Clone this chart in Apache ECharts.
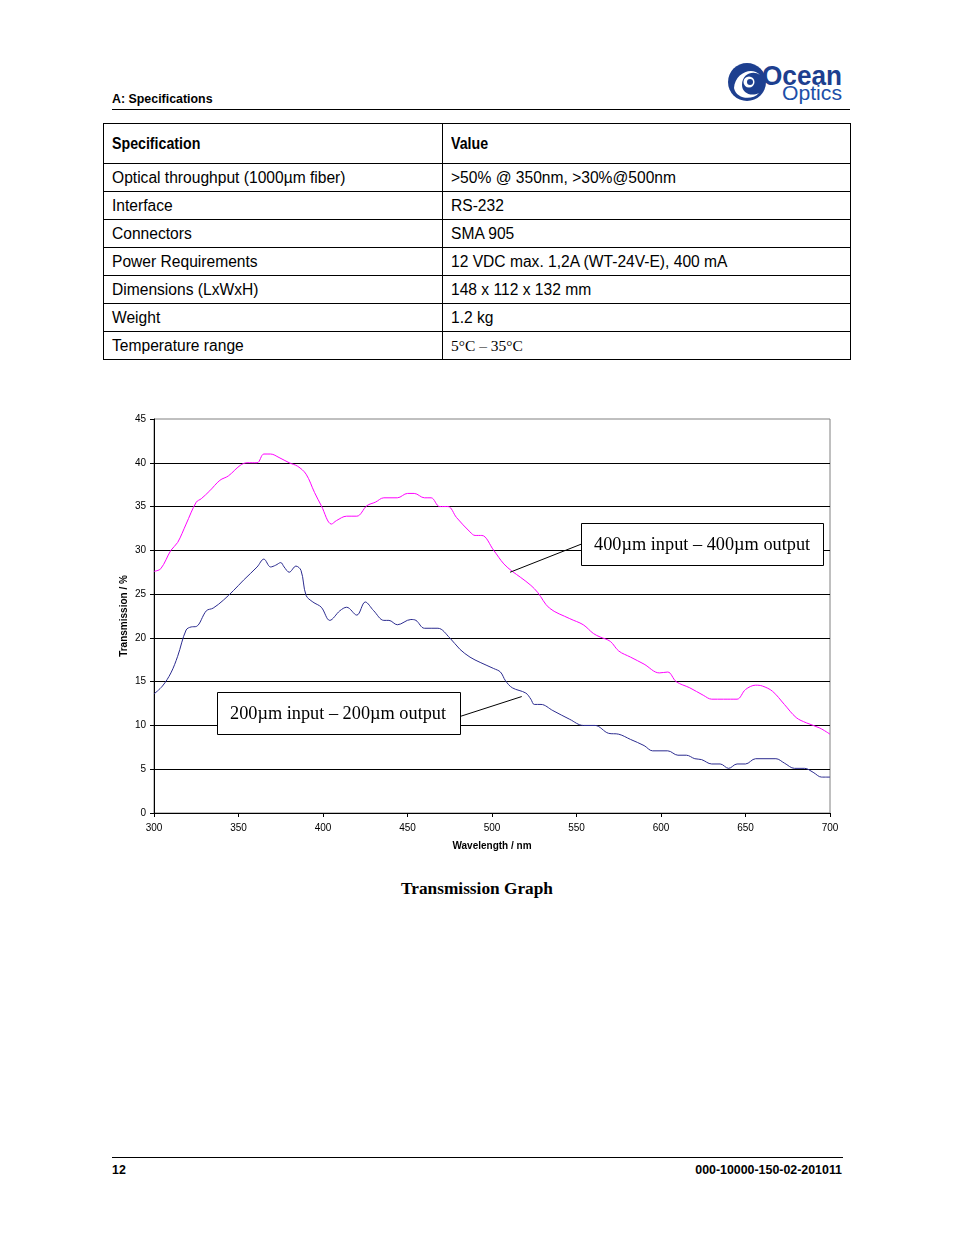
<!DOCTYPE html>
<html>
<head>
<meta charset="utf-8">
<script src="https://cdn.jsdelivr.net/npm/echarts@6/dist/echarts.min.js"></script>
<style>
  html, body { margin: 0; padding: 0; background: #fff; }
  body { width: 954px; height: 1235px; position: relative; overflow: hidden; font-family: "Liberation Sans", Arial, sans-serif; color: #000; }
  .abs { position: absolute; }
  #hdr { left: 112px; top: 92px; font-size: 12.4px; font-weight: bold; }
  #hline { left: 112px; top: 109px; width: 738px; height: 0; border-top: 1px solid #000; }
  #logo { left: 726px; top: 58px; width: 120px; height: 48px; }
  table { position: absolute; left: 103px; top: 123px; width: 748px; border-collapse: collapse; }
  td { border: 1px solid #000; padding: 0 0 0 8px; font-size: 15.6px; height: 27px; line-height: 27px; white-space: nowrap; }
  tr.h td { height: 39px; font-weight: bold; font-size: 16.5px; }
  tr.h td span { display: inline-block; transform: scaleX(0.86); transform-origin: left center; }
  td.c1 { width: 330px; }
  td.serif { font-family: "Liberation Serif", "Times New Roman", serif; font-size: 15.5px; }
  #chart { left: 0; top: 390px; width: 954px; height: 480px; }
  #cap { left: 0; width: 954px; top: 879px; text-align: center; font-family: "Liberation Serif", "Times New Roman", serif; font-weight: bold; font-size: 17.3px; }
  #fline { left: 112px; top: 1157px; width: 731px; height: 0; border-top: 1px solid #000; }
  #pg { left: 112px; top: 1163px; font-size: 12.4px; font-weight: bold; }
  #doc { right: 112px; top: 1163px; font-size: 12.4px; font-weight: bold; }
</style>
</head>
<body>
<div id="hdr" class="abs">A: Specifications</div>
<div id="hline" class="abs"></div>
<div id="logo" class="abs">
  <svg width="122" height="48" viewBox="0 0 122 48">
    <circle cx="21" cy="24" r="19" fill="#1d3f8f"/>
    <path d="M8 30 C 9 15, 26 8, 34 17 C 27 12, 16 16, 16 27 C 16 35, 25 39, 33 35 C 26 43, 10 41, 8 30 Z" fill="#fff"/>
    <circle cx="23" cy="24" r="5.5" fill="#fff"/>
    <circle cx="24" cy="24" r="3" fill="#1d3f8f"/>
    <text x="36" y="27" font-family="Liberation Sans, Arial" font-weight="bold" font-size="27" fill="#1d3f8f" textLength="80" lengthAdjust="spacingAndGlyphs">Ocean</text>
    <text x="56" y="42" font-family="Liberation Sans, Arial" font-size="20" fill="#1d4fa8" textLength="60" lengthAdjust="spacingAndGlyphs">Optics</text>
  </svg>
</div>

<table>
  <tr class="h"><td class="c1"><span>Specification</span></td><td><span>Value</span></td></tr>
  <tr><td class="c1">Optical throughput (1000µm fiber)</td><td>&gt;50% @ 350nm, &gt;30%@500nm</td></tr>
  <tr><td class="c1">Interface</td><td>RS-232</td></tr>
  <tr><td class="c1">Connectors</td><td>SMA 905</td></tr>
  <tr><td class="c1">Power Requirements</td><td>12 VDC max. 1,2A (WT-24V-E), 400 mA</td></tr>
  <tr><td class="c1">Dimensions (LxWxH)</td><td>148 x 112 x 132 mm</td></tr>
  <tr><td class="c1">Weight</td><td>1.2 kg</td></tr>
  <tr><td class="c1">Temperature range</td><td class="serif">5°C – 35°C</td></tr>
</table>

<div id="chart" class="abs"></div>
<div id="cap" class="abs">Transmission Graph</div>
<div id="fline" class="abs"></div>
<div id="pg" class="abs">12</div>
<div id="doc" class="abs">000-10000-150-02-201011</div>

<script>
// ---- data ----
var xTicks = [300, 350, 400, 450, 500, 550, 600, 650, 700];
var yTicks = [0, 5, 10, 15, 20, 25, 30, 35, 40, 45];

var fiber400Wl = [300,304,310,314,319,325,328,333,339,344,351,355,361,365,369,374,380,385,390,395,399,405,408,414,420,426,431,436,444,450,454,460,464,469,474,479,487,490,494,501,507,512,517,523,527,534,546,554,560,564,570,575,582,590,599,604,609,617,625,630,637,645,650,656,660,666,673,680,686,694,700];
var fiber400T = [27.6,27.9,30.0,30.9,33.0,35.5,35.9,36.8,38.0,38.5,39.7,40.0,40.0,41.0,41.0,40.6,40.0,39.6,38.7,36.6,35.1,33.0,33.4,33.9,33.9,35.1,35.5,36.0,36.0,36.5,36.5,36.0,36.0,35.0,35.0,33.75,32.1,31.7,31.7,30.0,28.45,27.6,26.9,26.0,25.2,23.4,22.2,21.5,20.5,20.1,19.6,18.5,17.8,17.0,16.0,16.1,15.0,14.3,13.45,13.0,13.0,13.0,14.1,14.6,14.5,13.9,12.4,10.9,10.3,9.7,9.0];

var fiber200Wl = [300,305,310,314,319,322,325,331,335,341,347,353,361,365,369,372,375,377,380,384,387,390,394,399,404,410,414,420,425,430,436,439,444,452,455,460,468,475,481,487,493,501,505,508,512,520,523,525,529,536,546,554,561,569,575,582,590,595,604,610,615,620,624,630,635,640,645,650,656,668,673,679,685,690,695,700];
var fiber200T = [13.6,14.5,16.0,17.9,20.9,21.25,21.3,23.1,23.4,24.3,25.4,26.6,28.1,29.0,28.1,28.3,28.6,28.1,27.5,28.2,27.7,24.85,24.1,23.5,22.0,23.1,23.5,22.6,24.1,23.1,22.0,22.0,21.5,22.1,22.0,21.1,21.1,20.0,18.7,17.8,17.2,16.5,16.1,15.1,14.3,13.7,13.0,12.4,12.4,11.7,10.7,10.0,10.0,9.1,9.0,8.4,7.7,7.1,7.1,6.6,6.6,6.2,6.1,5.6,5.6,5.1,5.6,5.6,6.2,6.2,5.7,5.1,5.1,4.65,4.1,4.1];

var labels = ["400µm input – 400µm output", "200µm input – 200µm output"];
// annotation anchors in data space: box [x1,y1,x2,y2], leader [xa,ya,xb,yb]
var label400Box = [552.7, 33.1, 695.9, 28.3];
var label400Lead = [552.7, 30.7, 510.7, 27.5];
var label200Box = [337.1, 13.8, 480.7, 9.0];
var label200Lead = [480.7, 11.0, 517.6, 13.3];

function pairs(xs, ys) { return xs.map(function (x, i) { return [x, ys[i]]; }); }

var chart = echarts.init(document.getElementById('chart'), null, { renderer: 'canvas' });
var font = '"Liberation Sans", Arial, sans-serif';
chart.setOption({
  animation: false,
  grid: { left: 154, right: 124, top: 29, bottom: 57, show: true, borderColor: '#808080', borderWidth: 1, backgroundColor: 'transparent' },
  xAxis: {
    type: 'value', min: xTicks[0], max: xTicks[xTicks.length - 1], interval: 50,
    name: 'Wavelength / nm', nameLocation: 'middle', nameGap: 28, nameMoveOverlap: false,
    nameTextStyle: { fontFamily: font, fontWeight: 'bold', fontSize: 10, color: '#000' },
    axisLine: { lineStyle: { color: '#000', width: 1 } },
    axisTick: { show: true, length: 4, lineStyle: { color: '#000' } },
    axisLabel: { fontFamily: font, fontSize: 10, color: '#000', margin: 10 },
    splitLine: { show: false }
  },
  yAxis: {
    type: 'value', min: yTicks[0], max: yTicks[yTicks.length - 1], interval: 5,
    name: 'Transmission / %', nameLocation: 'middle', nameGap: 25, nameMoveOverlap: false,
    nameTextStyle: { fontFamily: font, fontWeight: 'bold', fontSize: 10, color: '#000' },
    axisLine: { show: true, lineStyle: { color: '#000', width: 1 } },
    axisTick: { show: true, length: 4, lineStyle: { color: '#000' } },
    axisLabel: { fontFamily: font, fontSize: 10, color: '#000', margin: 8 },
    splitLine: { show: true, showMaxLine: false, lineStyle: { color: '#000', width: 1 } }
  },
  series: [
    { type: 'line', name: labels[0], data: pairs(fiber400Wl, fiber400T), smooth: 0.35, showSymbol: false, symbol: 'none',
      lineStyle: { color: '#ff00ff', width: 1 }, itemStyle: { color: '#ff00ff' }, z: 3 },
    { type: 'line', name: labels[1], data: pairs(fiber200Wl, fiber200T), smooth: 0.35, showSymbol: false, symbol: 'none',
      lineStyle: { color: '#2b2b8f', width: 1 }, itemStyle: { color: '#2b2b8f' }, z: 3 }
  ]
});

function px(x, y) { return chart.convertToPixel({ gridIndex: 0 }, [x, y]); }
function annot(box, lead, text) {
  var a = px(box[0], box[1]), b = px(box[2], box[3]);
  var l1 = px(lead[0], lead[1]), l2 = px(lead[2], lead[3]);
  return [
    { type: 'line', shape: { x1: l1[0], y1: l1[1], x2: l2[0], y2: l2[1] }, style: { stroke: '#000', lineWidth: 1 }, z: 10 },
    { type: 'rect', shape: { x: Math.round(a[0]) + 0.5, y: Math.round(a[1]) + 0.5, width: Math.round(b[0] - a[0]), height: Math.round(b[1] - a[1]) },
      style: { fill: '#fff', stroke: '#000', lineWidth: 1 }, z: 11 },
    { type: 'text', x: (a[0] + b[0]) / 2, y: (a[1] + b[1]) / 2 + 1,
      style: { text: text, fontFamily: '"Liberation Serif", "Times New Roman", serif', fontSize: 18.3, fill: '#000', align: 'center', verticalAlign: 'middle' }, z: 12 }
  ];
}
chart.setOption({ graphic: annot(label400Box, label400Lead, labels[0]).concat(annot(label200Box, label200Lead, labels[1])) });
</script>
</body>
</html>
